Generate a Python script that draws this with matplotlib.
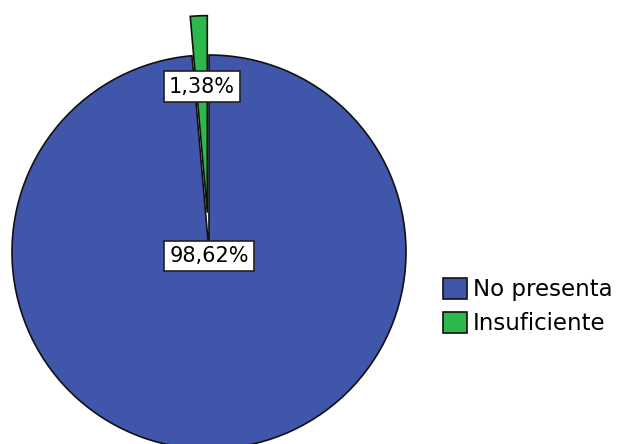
import numpy as np
import matplotlib.pyplot as plt

categorias = ['No presenta', 'Insuficiente']
porcentajes = [98.62, 1.38]
colores = ['#3F56AB', '#2DB84B']
separacion = [0.0, 0.2]

plt.rcParams['font.family'] = ['DejaVu Sans']

fig = plt.figure(figsize=(6.24, 4.44), dpi=100)
# pie of radius 1 centred in a square axes
ax = fig.add_axes([(209 - 197) / 624, (192 - 197) / 444, 394 / 624, 394 / 444])

wedges, _ = ax.pie(porcentajes, colors=colores, startangle=90, counterclock=False,
                   explode=separacion, radius=1.0,
                   wedgeprops=dict(edgecolor='#111111', linewidth=1.2))
for w in wedges:
    w.set_clip_on(False)
ax.set_xlim(-1, 1)
ax.set_ylim(-1, 1)
ax.set_aspect('equal')
ax.axis('off')

caja = dict(boxstyle='square,pad=0.25', facecolor='white', edgecolor='#222222', linewidth=1.2)
for w, p, e in zip(wedges, porcentajes, separacion):
    ang = np.deg2rad((w.theta1 + w.theta2) / 2)
    # big slice labelled near the centre, small slice part way out
    if p > 50:
        x, y = 0.0, -0.02
    else:
        d = e + 0.64
        x, y = d * np.cos(ang), d * np.sin(ang)
    ax.text(x, y, f'{p:.2f}%'.replace('.', ','), ha='center', va='center',
            fontsize=15, bbox=caja, zorder=5)

handles = [plt.Rectangle((0, 0), 1, 1, facecolor=c, edgecolor='#111111', linewidth=1.2)
           for c in colores]
fig.legend(handles, categorias, loc='center left', bbox_to_anchor=(0.71, 0.31),
           frameon=False, fontsize=16.5, handlelength=1.05, handleheight=1.05,
           handletextpad=0.25, labelspacing=0.45, borderpad=0, borderaxespad=0)

fig.savefig('out.png', dpi=100)
